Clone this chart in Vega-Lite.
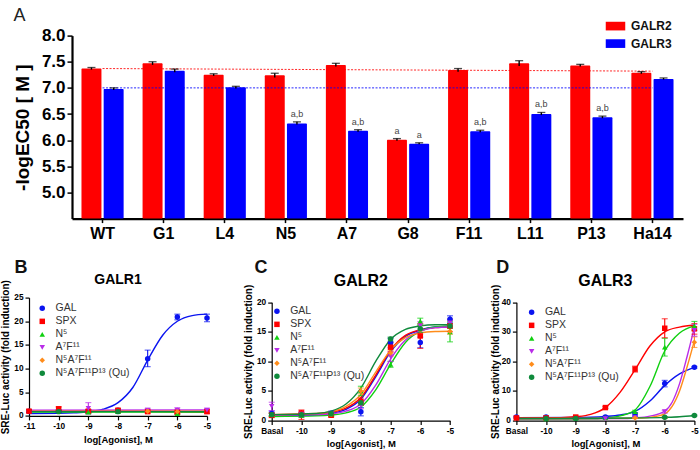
{
  "$schema": "https://vega.github.io/schema/vega-lite/v6.json",
  "padding": {"left": 0, "top": 6.6, "right": 0, "bottom": 0},
  "bounds": "flush",
  "spacing": 79,
  "background": "white",
  "config": {
    "font": "Liberation Sans",
    "view": {"stroke": null},
    "axis": {"grid": false, "domainColor": "black", "tickColor": "black", "labelColor": "black", "titleColor": "black", "labelFontWeight": "bold", "titleFontWeight": "bold", "labelFontSize": 8.3, "titleFontSize": 9.5, "domainWidth": 1.2, "tickWidth": 1.2, "tickSize": 4, "labelPadding": 2, "tickCount": 12, "labelFlush": false},
    "legend": {"title": null, "orient": "none", "labelFontSize": 10.5, "labelColor": "#333333", "symbolSize": 30, "symbolStrokeWidth": 0, "labelOffset": 8, "rowPadding": 2, "labelLimit": 200}
  },
  "datasets": {
    "bars": [
      {"peptide": "WT", "receptor": "GALR2", "value": 7.37, "lo": 7.35, "hi": 7.39, "note": ""},
      {"peptide": "WT", "receptor": "GALR3", "value": 6.98, "lo": 6.96, "hi": 7.0, "note": ""},
      {"peptide": "G1", "receptor": "GALR2", "value": 7.47, "lo": 7.44, "hi": 7.5, "note": ""},
      {"peptide": "G1", "receptor": "GALR3", "value": 7.33, "lo": 7.3, "hi": 7.36, "note": ""},
      {"peptide": "L4", "receptor": "GALR2", "value": 7.25, "lo": 7.23, "hi": 7.27, "note": ""},
      {"peptide": "L4", "receptor": "GALR3", "value": 7.01, "lo": 6.99, "hi": 7.03, "note": ""},
      {"peptide": "N5", "receptor": "GALR2", "value": 7.24, "lo": 7.2, "hi": 7.28, "note": ""},
      {"peptide": "N5", "receptor": "GALR3", "value": 6.32, "lo": 6.3, "hi": 6.35, "note": "a,b"},
      {"peptide": "A7", "receptor": "GALR2", "value": 7.44, "lo": 7.41, "hi": 7.47, "note": ""},
      {"peptide": "A7", "receptor": "GALR3", "value": 6.18, "lo": 6.16, "hi": 6.2, "note": "a,b"},
      {"peptide": "G8", "receptor": "GALR2", "value": 6.01, "lo": 5.99, "hi": 6.03, "note": "a"},
      {"peptide": "G8", "receptor": "GALR3", "value": 5.93, "lo": 5.92, "hi": 5.95, "note": "a"},
      {"peptide": "F11", "receptor": "GALR2", "value": 7.34, "lo": 7.31, "hi": 7.37, "note": ""},
      {"peptide": "F11", "receptor": "GALR3", "value": 6.17, "lo": 6.15, "hi": 6.19, "note": "a,b"},
      {"peptide": "L11", "receptor": "GALR2", "value": 7.47, "lo": 7.42, "hi": 7.52, "note": ""},
      {"peptide": "L11", "receptor": "GALR3", "value": 6.5, "lo": 6.48, "hi": 6.53, "note": "a,b"},
      {"peptide": "P13", "receptor": "GALR2", "value": 7.43, "lo": 7.41, "hi": 7.45, "note": ""},
      {"peptide": "P13", "receptor": "GALR3", "value": 6.44, "lo": 6.42, "hi": 6.46, "note": "a,b"},
      {"peptide": "Ha14", "receptor": "GALR2", "value": 7.29, "lo": 7.27, "hi": 7.31, "note": ""},
      {"peptide": "Ha14", "receptor": "GALR3", "value": 7.17, "lo": 7.16, "hi": 7.19, "note": ""}
    ],
    "refs": [
      {"peptide": "WT", "receptor": "GALR2", "value": 7.37},
      {"peptide": "Ha14", "receptor": "GALR2", "value": 7.32},
      {"peptide": "WT", "receptor": "GALR3", "value": 7.0},
      {"peptide": "Ha14", "receptor": "GALR3", "value": 7.0}
    ],
    "b_curve": [
      {"s": "GAL", "x": -11, "y": 0.5}, {"s": "GAL", "x": -10, "y": 0.55}, {"s": "GAL", "x": -9.5, "y": 0.65}, {"s": "GAL", "x": -9, "y": 0.85}, {"s": "GAL", "x": -8.5, "y": 1.4}, {"s": "GAL", "x": -8, "y": 2.8}, {"s": "GAL", "x": -7.5, "y": 6}, {"s": "GAL", "x": -7, "y": 11.8}, {"s": "GAL", "x": -6.5, "y": 17}, {"s": "GAL", "x": -6, "y": 20}, {"s": "GAL", "x": -5.5, "y": 21.2}, {"s": "GAL", "x": -5, "y": 21.5},
      {"s": "SPX", "x": -11, "y": 1.1}, {"s": "SPX", "x": -8, "y": 1.05}, {"s": "SPX", "x": -5, "y": 0.8},
      {"s": "N⁵", "x": -11, "y": 0.8}, {"s": "N⁵", "x": -5, "y": 0.8},
      {"s": "A⁷F¹¹", "x": -11, "y": 1.2}, {"s": "A⁷F¹¹", "x": -5, "y": 1.25},
      {"s": "N⁵A⁷F¹¹", "x": -11, "y": 1.0}, {"s": "N⁵A⁷F¹¹", "x": -5, "y": 1.0},
      {"s": "N⁵A⁷F¹¹P¹³ (Qu)", "x": -11, "y": 0.9}, {"s": "N⁵A⁷F¹¹P¹³ (Qu)", "x": -5, "y": 0.9}
    ],
    "b_pts": [
      {"s": "GAL", "x": -11, "y": 1, "lo": 0.7, "hi": 1.3}, {"s": "GAL", "x": -10, "y": 1, "lo": 0.7, "hi": 1.3}, {"s": "GAL", "x": -9, "y": 1, "lo": 0.7, "hi": 1.3}, {"s": "GAL", "x": -8, "y": 1.2, "lo": 0.9, "hi": 1.5}, {"s": "GAL", "x": -7, "y": 12.1, "lo": 10.4, "hi": 13.9}, {"s": "GAL", "x": -6, "y": 20.9, "lo": 20.3, "hi": 21.5}, {"s": "GAL", "x": -5, "y": 20.7, "lo": 19.9, "hi": 21.5},
      {"s": "SPX", "x": -11, "y": 1, "lo": 0.7, "hi": 1.3}, {"s": "SPX", "x": -10, "y": 1.5, "lo": 1.1, "hi": 1.9}, {"s": "SPX", "x": -9, "y": 1.0, "lo": 0.7, "hi": 1.3}, {"s": "SPX", "x": -8, "y": 1.2, "lo": 0.9, "hi": 1.5}, {"s": "SPX", "x": -7, "y": 0.9, "lo": 0.6, "hi": 1.2}, {"s": "SPX", "x": -6, "y": 0.8, "lo": 0.5, "hi": 1.1}, {"s": "SPX", "x": -5, "y": 0.9, "lo": 0.5, "hi": 1.3},
      {"s": "N⁵", "x": -9, "y": 0.8, "lo": 0.5, "hi": 1.1}, {"s": "N⁵", "x": -8, "y": 0.9, "lo": 0.6, "hi": 1.2}, {"s": "N⁵", "x": -6, "y": 0.5, "lo": 0.3, "hi": 0.7},
      {"s": "A⁷F¹¹", "x": -9, "y": 1.6, "lo": 0.4, "hi": 2.8}, {"s": "A⁷F¹¹", "x": -7, "y": 1.2, "lo": 0.8, "hi": 1.6}, {"s": "A⁷F¹¹", "x": -6, "y": 1.2, "lo": 0.7, "hi": 1.7}, {"s": "A⁷F¹¹", "x": -5, "y": 1.2, "lo": 0.8, "hi": 1.6},
      {"s": "N⁵A⁷F¹¹", "x": -7, "y": 1.0, "lo": 0.8, "hi": 1.2}, {"s": "N⁵A⁷F¹¹", "x": -6, "y": 0.9, "lo": 0.7, "hi": 1.1},
      {"s": "N⁵A⁷F¹¹P¹³ (Qu)", "x": -10, "y": 0.9, "lo": 0.7, "hi": 1.1}, {"s": "N⁵A⁷F¹¹P¹³ (Qu)", "x": -8, "y": 0.9, "lo": 0.7, "hi": 1.1}
    ],
    "c_curve": [
      {"s": "GAL", "x": -11, "y": 0.8}, {"s": "GAL", "x": -9.5, "y": 0.95}, {"s": "GAL", "x": -9, "y": 1.2}, {"s": "GAL", "x": -8.5, "y": 1.9}, {"s": "GAL", "x": -8, "y": 3.6}, {"s": "GAL", "x": -7.5, "y": 7.4}, {"s": "GAL", "x": -7, "y": 11.6}, {"s": "GAL", "x": -6.5, "y": 14.2}, {"s": "GAL", "x": -6, "y": 15.3}, {"s": "GAL", "x": -5.5, "y": 15.8}, {"s": "GAL", "x": -5, "y": 15.9},
      {"s": "SPX", "x": -11, "y": 1.0}, {"s": "SPX", "x": -9.5, "y": 1.15}, {"s": "SPX", "x": -9, "y": 1.4}, {"s": "SPX", "x": -8.5, "y": 2.1}, {"s": "SPX", "x": -8, "y": 3.9}, {"s": "SPX", "x": -7.5, "y": 7.7}, {"s": "SPX", "x": -7, "y": 11.9}, {"s": "SPX", "x": -6.5, "y": 14.4}, {"s": "SPX", "x": -6, "y": 15.3}, {"s": "SPX", "x": -5.5, "y": 15.7}, {"s": "SPX", "x": -5, "y": 15.8},
      {"s": "N⁵", "x": -11, "y": 0.7}, {"s": "N⁵", "x": -9.5, "y": 0.8}, {"s": "N⁵", "x": -9, "y": 0.95}, {"s": "N⁵", "x": -8.5, "y": 1.3}, {"s": "N⁵", "x": -8, "y": 2.3}, {"s": "N⁵", "x": -7.5, "y": 5.2}, {"s": "N⁵", "x": -7, "y": 9.5}, {"s": "N⁵", "x": -6.5, "y": 13.2}, {"s": "N⁵", "x": -6, "y": 15.1}, {"s": "N⁵", "x": -5.5, "y": 15.8}, {"s": "N⁵", "x": -5, "y": 16.0},
      {"s": "A⁷F¹¹", "x": -11, "y": 0.9}, {"s": "A⁷F¹¹", "x": -9.5, "y": 1.0}, {"s": "A⁷F¹¹", "x": -9, "y": 1.15}, {"s": "A⁷F¹¹", "x": -8.5, "y": 1.6}, {"s": "A⁷F¹¹", "x": -8, "y": 2.8}, {"s": "A⁷F¹¹", "x": -7.5, "y": 6.0}, {"s": "A⁷F¹¹", "x": -7, "y": 10.4}, {"s": "A⁷F¹¹", "x": -6.5, "y": 13.6}, {"s": "A⁷F¹¹", "x": -6, "y": 15.1}, {"s": "A⁷F¹¹", "x": -5.5, "y": 15.7}, {"s": "A⁷F¹¹", "x": -5, "y": 15.8},
      {"s": "N⁵A⁷F¹¹", "x": -11, "y": 1.0}, {"s": "N⁵A⁷F¹¹", "x": -9.5, "y": 1.2}, {"s": "N⁵A⁷F¹¹", "x": -9, "y": 1.5}, {"s": "N⁵A⁷F¹¹", "x": -8.5, "y": 2.4}, {"s": "N⁵A⁷F¹¹", "x": -8, "y": 4.4}, {"s": "N⁵A⁷F¹¹", "x": -7.5, "y": 8.2}, {"s": "N⁵A⁷F¹¹", "x": -7, "y": 11.9}, {"s": "N⁵A⁷F¹¹", "x": -6.5, "y": 14.0}, {"s": "N⁵A⁷F¹¹", "x": -6, "y": 14.8}, {"s": "N⁵A⁷F¹¹", "x": -5.5, "y": 15.05}, {"s": "N⁵A⁷F¹¹", "x": -5, "y": 15.1},
      {"s": "N⁵A⁷F¹¹P¹³ (Qu)", "x": -11, "y": 1.0}, {"s": "N⁵A⁷F¹¹P¹³ (Qu)", "x": -9.5, "y": 1.2}, {"s": "N⁵A⁷F¹¹P¹³ (Qu)", "x": -9, "y": 1.6}, {"s": "N⁵A⁷F¹¹P¹³ (Qu)", "x": -8.5, "y": 2.8}, {"s": "N⁵A⁷F¹¹P¹³ (Qu)", "x": -8, "y": 5.5}, {"s": "N⁵A⁷F¹¹P¹³ (Qu)", "x": -7.5, "y": 10.0}, {"s": "N⁵A⁷F¹¹P¹³ (Qu)", "x": -7, "y": 13.7}, {"s": "N⁵A⁷F¹¹P¹³ (Qu)", "x": -6.5, "y": 15.4}, {"s": "N⁵A⁷F¹¹P¹³ (Qu)", "x": -6, "y": 16.0}, {"s": "N⁵A⁷F¹¹P¹³ (Qu)", "x": -5.5, "y": 16.2}, {"s": "N⁵A⁷F¹¹P¹³ (Qu)", "x": -5, "y": 16.2}
    ],
    "c_pts": [
      {"s": "GAL", "x": -11, "y": 1.2, "lo": 0.8, "hi": 1.6}, {"s": "GAL", "x": -10, "y": 1.0, "lo": 0.6, "hi": 1.4}, {"s": "GAL", "x": -9, "y": 1.2, "lo": 0.8, "hi": 1.6}, {"s": "GAL", "x": -8, "y": 1.5, "lo": 0.8, "hi": 2.2}, {"s": "GAL", "x": -7, "y": 13.1, "lo": 12.3, "hi": 13.9}, {"s": "GAL", "x": -6, "y": 13.2, "lo": 12.3, "hi": 14.1}, {"s": "GAL", "x": -5, "y": 17.1, "lo": 16.5, "hi": 17.7},
      {"s": "SPX", "x": -11, "y": 0.9, "lo": 0.5, "hi": 1.3}, {"s": "SPX", "x": -10, "y": 1.3, "lo": 0.2, "hi": 1.8}, {"s": "SPX", "x": -9, "y": 0.9, "lo": 0.6, "hi": 1.2}, {"s": "SPX", "x": -8, "y": 3.2, "lo": 2.6, "hi": 3.8}, {"s": "SPX", "x": -7, "y": 12.4, "lo": 11.6, "hi": 13.2}, {"s": "SPX", "x": -6, "y": 14.3, "lo": 12.2, "hi": 16.4}, {"s": "SPX", "x": -5, "y": 16.0, "lo": 15.0, "hi": 17.0},
      {"s": "N⁵", "x": -11, "y": 1.0, "lo": 0.7, "hi": 1.3}, {"s": "N⁵", "x": -10, "y": 0.9, "lo": 0.6, "hi": 1.2}, {"s": "N⁵", "x": -9, "y": 1.1, "lo": 0.8, "hi": 1.4}, {"s": "N⁵", "x": -8, "y": 5.0, "lo": 4.2, "hi": 5.8}, {"s": "N⁵", "x": -7, "y": 9.5, "lo": 9.0, "hi": 10.0}, {"s": "N⁵", "x": -6, "y": 16.8, "lo": 16.2, "hi": 17.3}, {"s": "N⁵", "x": -5, "y": 15.0, "lo": 13.3, "hi": 16.7},
      {"s": "A⁷F¹¹", "x": -11, "y": 2.4, "lo": 1.7, "hi": 3.1}, {"s": "A⁷F¹¹", "x": -10, "y": 1.1, "lo": 0.8, "hi": 1.4}, {"s": "A⁷F¹¹", "x": -9, "y": 1.1, "lo": 0.8, "hi": 1.4}, {"s": "A⁷F¹¹", "x": -8, "y": 2.5, "lo": 2.0, "hi": 3.0}, {"s": "A⁷F¹¹", "x": -7, "y": 10.8, "lo": 10.0, "hi": 11.6}, {"s": "A⁷F¹¹", "x": -6, "y": 16.0, "lo": 15.3, "hi": 16.7}, {"s": "A⁷F¹¹", "x": -5, "y": 16.5, "lo": 15.8, "hi": 17.2},
      {"s": "N⁵A⁷F¹¹", "x": -11, "y": 1.0, "lo": 0.7, "hi": 1.3}, {"s": "N⁵A⁷F¹¹", "x": -10, "y": 1.0, "lo": 0.7, "hi": 1.3}, {"s": "N⁵A⁷F¹¹", "x": -9, "y": 1.1, "lo": 0.8, "hi": 1.4}, {"s": "N⁵A⁷F¹¹", "x": -8, "y": 5.0, "lo": 4.5, "hi": 5.5}, {"s": "N⁵A⁷F¹¹", "x": -7, "y": 11.4, "lo": 10.9, "hi": 11.9}, {"s": "N⁵A⁷F¹¹", "x": -6, "y": 15.3, "lo": 14.5, "hi": 16.1}, {"s": "N⁵A⁷F¹¹", "x": -5, "y": 15.1, "lo": 14.6, "hi": 15.6},
      {"s": "N⁵A⁷F¹¹P¹³ (Qu)", "x": -11, "y": 1.0, "lo": 0.8, "hi": 1.2}, {"s": "N⁵A⁷F¹¹P¹³ (Qu)", "x": -10, "y": 1.0, "lo": 0.8, "hi": 1.2}, {"s": "N⁵A⁷F¹¹P¹³ (Qu)", "x": -9, "y": 1.2, "lo": 1.0, "hi": 1.4}, {"s": "N⁵A⁷F¹¹P¹³ (Qu)", "x": -8, "y": 3.0, "lo": 2.6, "hi": 3.4}, {"s": "N⁵A⁷F¹¹P¹³ (Qu)", "x": -7, "y": 13.8, "lo": 13.4, "hi": 14.1}, {"s": "N⁵A⁷F¹¹P¹³ (Qu)", "x": -6, "y": 15.5, "lo": 14.9, "hi": 16.1}, {"s": "N⁵A⁷F¹¹P¹³ (Qu)", "x": -5, "y": 16.0, "lo": 15.6, "hi": 16.4}
    ],
    "d_curve": [
      {"s": "GAL", "x": -11, "y": 1.0}, {"s": "GAL", "x": -9, "y": 1.05}, {"s": "GAL", "x": -8.5, "y": 1.15}, {"s": "GAL", "x": -8, "y": 1.4}, {"s": "GAL", "x": -7.5, "y": 1.9}, {"s": "GAL", "x": -7, "y": 3.1}, {"s": "GAL", "x": -6.5, "y": 6.6}, {"s": "GAL", "x": -6, "y": 11.9}, {"s": "GAL", "x": -5.5, "y": 15.8}, {"s": "GAL", "x": -5, "y": 18},
      {"s": "SPX", "x": -11, "y": 0.9}, {"s": "SPX", "x": -9.5, "y": 1.0}, {"s": "SPX", "x": -9, "y": 1.3}, {"s": "SPX", "x": -8.5, "y": 2.1}, {"s": "SPX", "x": -8, "y": 4.4}, {"s": "SPX", "x": -7.5, "y": 9.6}, {"s": "SPX", "x": -7, "y": 17.2}, {"s": "SPX", "x": -6.5, "y": 25.2}, {"s": "SPX", "x": -6, "y": 30}, {"s": "SPX", "x": -5.5, "y": 31.6}, {"s": "SPX", "x": -5, "y": 32.2},
      {"s": "N⁵", "x": -11, "y": 0.5}, {"s": "N⁵", "x": -8.5, "y": 0.6}, {"s": "N⁵", "x": -8, "y": 0.9}, {"s": "N⁵", "x": -7.5, "y": 1.6}, {"s": "N⁵", "x": -7, "y": 3.6}, {"s": "N⁵", "x": -6.5, "y": 11.5}, {"s": "N⁵", "x": -6, "y": 23.5}, {"s": "N⁵", "x": -5.5, "y": 29.6}, {"s": "N⁵", "x": -5, "y": 32},
      {"s": "A⁷F¹¹", "x": -11, "y": 0.6}, {"s": "A⁷F¹¹", "x": -7.5, "y": 0.7}, {"s": "A⁷F¹¹", "x": -7, "y": 0.9}, {"s": "A⁷F¹¹", "x": -6.5, "y": 1.5}, {"s": "A⁷F¹¹", "x": -6, "y": 3.2}, {"s": "A⁷F¹¹", "x": -5.75, "y": 6.2}, {"s": "A⁷F¹¹", "x": -5.5, "y": 12.5}, {"s": "A⁷F¹¹", "x": -5.25, "y": 21.5}, {"s": "A⁷F¹¹", "x": -5, "y": 31.5},
      {"s": "N⁵A⁷F¹¹", "x": -11, "y": 0.7}, {"s": "N⁵A⁷F¹¹", "x": -7, "y": 0.8}, {"s": "N⁵A⁷F¹¹", "x": -6.5, "y": 1.1}, {"s": "N⁵A⁷F¹¹", "x": -6, "y": 2.3}, {"s": "N⁵A⁷F¹¹", "x": -5.75, "y": 4.8}, {"s": "N⁵A⁷F¹¹", "x": -5.5, "y": 10}, {"s": "N⁵A⁷F¹¹", "x": -5.25, "y": 18}, {"s": "N⁵A⁷F¹¹", "x": -5, "y": 27},
      {"s": "N⁵A⁷F¹¹P¹³ (Qu)", "x": -11, "y": 0.7}, {"s": "N⁵A⁷F¹¹P¹³ (Qu)", "x": -8, "y": 0.8}, {"s": "N⁵A⁷F¹¹P¹³ (Qu)", "x": -7, "y": 0.9}, {"s": "N⁵A⁷F¹¹P¹³ (Qu)", "x": -6, "y": 1.1}, {"s": "N⁵A⁷F¹¹P¹³ (Qu)", "x": -5.5, "y": 1.3}, {"s": "N⁵A⁷F¹¹P¹³ (Qu)", "x": -5, "y": 1.7}
    ],
    "d_pts": [
      {"s": "GAL", "x": -11, "y": 1.2, "lo": 0.9, "hi": 1.5}, {"s": "GAL", "x": -10, "y": 1.2, "lo": 0.9, "hi": 1.5}, {"s": "GAL", "x": -9, "y": 1.0, "lo": 0.7, "hi": 1.3}, {"s": "GAL", "x": -8, "y": 1.2, "lo": 0.9, "hi": 1.5}, {"s": "GAL", "x": -7, "y": 2.1, "lo": 1.5, "hi": 2.7}, {"s": "GAL", "x": -6, "y": 12.5, "lo": 11.4, "hi": 13.6}, {"s": "GAL", "x": -5, "y": 18, "lo": 17.7, "hi": 18.3},
      {"s": "SPX", "x": -11, "y": 0.9, "lo": 0.6, "hi": 1.2}, {"s": "SPX", "x": -10, "y": 0.9, "lo": 0.6, "hi": 1.2}, {"s": "SPX", "x": -9, "y": 1.2, "lo": 0.9, "hi": 1.5}, {"s": "SPX", "x": -8, "y": 4.4, "lo": 4.1, "hi": 4.7}, {"s": "SPX", "x": -7, "y": 17.4, "lo": 16.4, "hi": 18.4}, {"s": "SPX", "x": -6, "y": 31.2, "lo": 28, "hi": 34.4}, {"s": "SPX", "x": -5, "y": 31, "lo": 29.2, "hi": 32.8},
      {"s": "N⁵", "x": -10, "y": 0.6, "lo": 0.4, "hi": 0.8}, {"s": "N⁵", "x": -9, "y": 0.8, "lo": 0.6, "hi": 1.0}, {"s": "N⁵", "x": -8, "y": 1.0, "lo": 0.8, "hi": 1.2}, {"s": "N⁵", "x": -7, "y": 3.0, "lo": 2.5, "hi": 3.5}, {"s": "N⁵", "x": -6, "y": 24.8, "lo": 21.8, "hi": 27.8}, {"s": "N⁵", "x": -5, "y": 32, "lo": 30.5, "hi": 33.5},
      {"s": "A⁷F¹¹", "x": -8, "y": 0.7, "lo": 0.5, "hi": 0.9}, {"s": "A⁷F¹¹", "x": -7, "y": 1.0, "lo": 0.8, "hi": 1.2}, {"s": "A⁷F¹¹", "x": -6, "y": 3.0, "lo": 2.5, "hi": 3.5}, {"s": "A⁷F¹¹", "x": -5, "y": 30.5, "lo": 28.5, "hi": 32.5},
      {"s": "N⁵A⁷F¹¹", "x": -7, "y": 0.9, "lo": 0.7, "hi": 1.1}, {"s": "N⁵A⁷F¹¹", "x": -6, "y": 1.0, "lo": 0.8, "hi": 1.2}, {"s": "N⁵A⁷F¹¹", "x": -5, "y": 26.5, "lo": 24.7, "hi": 28.3},
      {"s": "N⁵A⁷F¹¹P¹³ (Qu)", "x": -10, "y": 0.7, "lo": 0.5, "hi": 0.9}, {"s": "N⁵A⁷F¹¹P¹³ (Qu)", "x": -9, "y": 0.7, "lo": 0.5, "hi": 0.9}, {"s": "N⁵A⁷F¹¹P¹³ (Qu)", "x": -6, "y": 1.1, "lo": 0.9, "hi": 1.3}, {"s": "N⁵A⁷F¹¹P¹³ (Qu)", "x": -5, "y": 1.7, "lo": 1.5, "hi": 1.9}
    ]
  },
  "resolve": {"scale": {"color": "independent", "shape": "independent", "fill": "independent"}, "legend": {"color": "independent", "shape": "independent", "fill": "independent"}},
  "vconcat": [
    {
      "width": 654,
      "height": 183,
      "data": {"name": "bars"},
      "encoding": {
        "x": {"field": "peptide", "type": "nominal", "sort": null, "scale": {"domain": ["WT", "G1", "L4", "N5", "A7", "G8", "F11", "L11", "P13", "Ha14"], "range": [43, 654], "paddingInner": 0.31, "paddingOuter": 0.155}, "axis": {"title": null, "labelAngle": 0, "labelFontSize": 16, "labelPadding": 3, "domainWidth": 2.2, "tickWidth": 1.5, "tickSize": 4}}
      },
      "layer": [
        {
          "mark": {"type": "bar", "cornerRadius": 1},
          "encoding": {
            "xOffset": {"field": "receptor", "scale": {"paddingInner": 0.1}},
            "y": {"field": "value", "type": "quantitative", "stack": null, "scale": {"domain": [4.5, 8], "nice": false}, "axis": {"title": "-logEC50 [ M ]", "values": [5, 5.5, 6, 6.5, 7, 7.5, 8], "labelExpr": "format(datum.value, '.1f')", "labelFontSize": 17, "titleFontSize": 19, "offset": -43, "domainWidth": 2.2, "tickWidth": 1.5, "tickSize": 5, "labelPadding": 2, "titlePadding": 9}},
            "y2": {"datum": 4.5},
            "color": {"field": "receptor", "type": "nominal", "scale": {"domain": ["GALR2", "GALR3"], "range": ["#ff0000", "#0000ff"]}, "legend": {"legendX": 580, "legendY": -16, "symbolType": "M-1.5,-0.667H1.5V0.667H-1.5Z", "symbolSize": 169, "labelFontSize": 12, "labelFontWeight": "bold", "labelColor": "#111111", "labelOffset": 9, "rowPadding": 4.5}}
          }
        },
        {
          "data": {"name": "refs"},
          "mark": {"type": "line", "strokeDash": [2, 1.5], "strokeWidth": 1, "opacity": 0.85},
          "encoding": {
            "y": {"field": "value", "type": "quantitative"},
            "color": {"field": "receptor", "type": "nominal", "legend": null},
            "detail": {"field": "receptor"}
          }
        },
        {
          "mark": {"type": "rule", "color": "black", "strokeWidth": 1.4},
          "encoding": {
            "xOffset": {"field": "receptor", "scale": {"paddingInner": 0.1}},
            "y": {"field": "lo", "type": "quantitative"},
            "y2": {"field": "hi"}
          }
        },
        {
          "mark": {"type": "tick", "color": "black", "thickness": 1.3, "size": 8},
          "encoding": {
            "xOffset": {"field": "receptor", "scale": {"paddingInner": 0.1}},
            "y": {"field": "hi", "type": "quantitative"}
          }
        },
        {
          "mark": {"type": "text", "fontSize": 9, "color": "#444444", "dy": -8},
          "encoding": {
            "xOffset": {"field": "receptor", "scale": {"paddingInner": 0.1}},
            "y": {"field": "hi", "type": "quantitative"},
            "text": {"field": "note"}
          }
        },
        {
          "data": {"values": [{"label": "A"}]},
          "mark": {"type": "text", "fontSize": 18, "color": "#222222", "dx": -83},
          "encoding": {
            "x": {"datum": "WT", "type": "nominal"},
            "y": {"datum": 8.37, "type": "quantitative"},
            "text": {"field": "label"}
          }
        }
      ]
    },
    {
      "bounds": "flush",
      "spacing": 64.7,
      "resolve": {"scale": {"color": "independent", "shape": "independent", "fill": "independent"}, "legend": {"color": "independent", "shape": "independent", "fill": "independent"}},
      "hconcat": [
        {
          "width": 178,
          "height": 123,
          "layer": [
            {
              "data": {"name": "b_curve"},
              "mark": {"type": "line", "strokeWidth": 1.4, "interpolate": "monotone"},
              "encoding": {
                "x": {"field": "x", "type": "quantitative", "scale": {"domain": [-11, -5], "nice": false}, "axis": {"title": "log[Agonist], M", "values": [-11, -10, -9, -8, -7, -6, -5], "labelExpr": "'' + datum.value", "offset": -4.7}},
                "y": {"field": "y", "type": "quantitative", "scale": {"domain": [0, 25], "range": [118.3, 0], "nice": false}, "axis": {"title": "SRE-Luc activity (fold induction)", "titleFontSize": 10, "values": [0, 5, 10, 15, 20, 25], "titlePadding": 3}},
                "color": {"field": "s", "type": "nominal", "scale": {"domain": ["N⁵A⁷F¹¹P¹³ (Qu)", "N⁵A⁷F¹¹", "A⁷F¹¹", "N⁵", "SPX", "GAL"], "range": ["#0f8a3c", "#ff8c1a", "#b92ce8", "#10d010", "#ff0000", "#0a14f0"]}, "legend": null}
              }
            },
            {
              "data": {"name": "b_pts"},
              "mark": {"type": "rule", "strokeWidth": 1.1},
              "encoding": {
                "x": {"field": "x", "type": "quantitative"},
                "y": {"field": "lo", "type": "quantitative"},
                "y2": {"field": "hi"},
                "color": {"field": "s", "type": "nominal", "legend": null}
              }
            },
            {
              "data": {"name": "b_pts"},
              "mark": {"type": "tick", "orient": "horizontal", "thickness": 1.1, "size": 6},
              "encoding": {
                "x": {"field": "x", "type": "quantitative"},
                "y": {"field": "hi", "type": "quantitative"},
                "color": {"field": "s", "type": "nominal", "legend": null}
              }
            },
            {
              "data": {"name": "b_pts"},
              "mark": {"type": "tick", "orient": "horizontal", "thickness": 1.1, "size": 6},
              "encoding": {
                "x": {"field": "x", "type": "quantitative"},
                "y": {"field": "lo", "type": "quantitative"},
                "color": {"field": "s", "type": "nominal", "legend": null}
              }
            },
            {
              "data": {"name": "b_pts"},
              "mark": {"type": "point", "filled": true, "opacity": 1, "size": 30},
              "encoding": {
                "x": {"field": "x", "type": "quantitative"},
                "y": {"field": "y", "type": "quantitative"},
                "fill": {"field": "s", "type": "nominal", "scale": {"domain": ["GAL", "SPX", "N⁵", "A⁷F¹¹", "N⁵A⁷F¹¹", "N⁵A⁷F¹¹P¹³ (Qu)"], "range": ["#0a14f0", "#ff0000", "#10d010", "#b92ce8", "#ff8c1a", "#0f8a3c"]}, "legend": {"legendX": 8, "legendY": 5.5}},
                "shape": {"field": "s", "type": "nominal", "scale": {"domain": ["GAL", "SPX", "N⁵", "A⁷F¹¹", "N⁵A⁷F¹¹", "N⁵A⁷F¹¹P¹³ (Qu)"], "range": ["circle", "square", "triangle-up", "triangle-down", "diamond", "circle"]}, "legend": {"legendX": 8, "legendY": 5.5}}
              }
            },
            {
              "data": {"values": [{"label": "B"}]},
              "mark": {"type": "text", "fontSize": 18, "fontWeight": "bold", "color": "#111111"},
              "encoding": {"x": {"datum": -11.27, "type": "quantitative"}, "y": {"datum": 31.3, "type": "quantitative"}, "text": {"field": "label", "type": "nominal"}}
            },
            {
              "data": {"values": [{"label": "GALR1"}]},
              "mark": {"type": "text", "fontSize": 14, "fontWeight": "bold", "color": "black"},
              "encoding": {"x": {"datum": -8, "type": "quantitative"}, "y": {"datum": 28.8, "type": "quantitative"}, "text": {"field": "label", "type": "nominal"}}
            }
          ]
        },
        {
          "width": 180,
          "height": 123,
          "layer": [
            {
              "data": {"name": "c_curve"},
              "mark": {"type": "line", "strokeWidth": 1.4, "interpolate": "monotone"},
              "encoding": {
                "x": {"field": "x", "type": "quantitative", "scale": {"domain": [-11, -5], "range": [0, 178.3], "nice": false}, "axis": {"title": "log[Agonist], M", "values": [-11, -10, -9, -8, -7, -6, -5], "labelExpr": "datum.value == -11 ? 'Basal' : '' + datum.value"}},
                "y": {"field": "y", "type": "quantitative", "scale": {"domain": [0, 20], "range": [123, 4.6], "nice": false}, "axis": {"title": "SRE-Luc activity (fold induction)", "titleFontSize": 10, "values": [0, 5, 10, 15, 20], "titlePadding": 3}},
                "color": {"field": "s", "type": "nominal", "scale": {"domain": ["N⁵A⁷F¹¹P¹³ (Qu)", "N⁵A⁷F¹¹", "A⁷F¹¹", "N⁵", "SPX", "GAL"], "range": ["#0f8a3c", "#ff8c1a", "#b92ce8", "#10d010", "#ff0000", "#0a14f0"]}, "legend": null}
              }
            },
            {
              "data": {"name": "c_pts"},
              "mark": {"type": "rule", "strokeWidth": 1.1},
              "encoding": {
                "x": {"field": "x", "type": "quantitative"},
                "y": {"field": "lo", "type": "quantitative"},
                "y2": {"field": "hi"},
                "color": {"field": "s", "type": "nominal", "legend": null}
              }
            },
            {
              "data": {"name": "c_pts"},
              "mark": {"type": "tick", "orient": "horizontal", "thickness": 1.1, "size": 6},
              "encoding": {
                "x": {"field": "x", "type": "quantitative"},
                "y": {"field": "hi", "type": "quantitative"},
                "color": {"field": "s", "type": "nominal", "legend": null}
              }
            },
            {
              "data": {"name": "c_pts"},
              "mark": {"type": "tick", "orient": "horizontal", "thickness": 1.1, "size": 6},
              "encoding": {
                "x": {"field": "x", "type": "quantitative"},
                "y": {"field": "lo", "type": "quantitative"},
                "color": {"field": "s", "type": "nominal", "legend": null}
              }
            },
            {
              "data": {"name": "c_pts"},
              "mark": {"type": "point", "filled": true, "opacity": 1, "size": 30},
              "encoding": {
                "x": {"field": "x", "type": "quantitative"},
                "y": {"field": "y", "type": "quantitative"},
                "fill": {"field": "s", "type": "nominal", "scale": {"domain": ["GAL", "SPX", "N⁵", "A⁷F¹¹", "N⁵A⁷F¹¹", "N⁵A⁷F¹¹P¹³ (Qu)"], "range": ["#0a14f0", "#ff0000", "#10d010", "#b92ce8", "#ff8c1a", "#0f8a3c"]}, "legend": {"legendX": 0, "legendY": 8.5}},
                "shape": {"field": "s", "type": "nominal", "scale": {"domain": ["GAL", "SPX", "N⁵", "A⁷F¹¹", "N⁵A⁷F¹¹", "N⁵A⁷F¹¹P¹³ (Qu)"], "range": ["circle", "square", "triangle-up", "triangle-down", "diamond", "circle"]}, "legend": {"legendX": 0, "legendY": 8.5}}
              }
            },
            {
              "data": {"values": [{"label": "C"}]},
              "mark": {"type": "text", "fontSize": 18, "fontWeight": "bold", "color": "#111111"},
              "encoding": {"x": {"datum": -11.36, "type": "quantitative"}, "y": {"datum": 25.8, "type": "quantitative"}, "text": {"field": "label", "type": "nominal"}}
            },
            {
              "data": {"values": [{"label": "GALR2"}]},
              "mark": {"type": "text", "fontSize": 16, "fontWeight": "bold", "color": "black"},
              "encoding": {"x": {"datum": -8, "type": "quantitative"}, "y": {"datum": 23.6, "type": "quantitative"}, "text": {"field": "label", "type": "nominal"}}
            }
          ]
        },
        {
          "width": 178,
          "height": 123,
          "layer": [
            {
              "data": {"name": "d_curve"},
              "mark": {"type": "line", "strokeWidth": 1.4, "interpolate": "monotone"},
              "encoding": {
                "x": {"field": "x", "type": "quantitative", "scale": {"domain": [-11, -5], "nice": false}, "axis": {"title": "log[Agonist], M", "values": [-11, -10, -9, -8, -7, -6, -5], "labelExpr": "datum.value == -11 ? 'Basal' : '' + datum.value"}},
                "y": {"field": "y", "type": "quantitative", "scale": {"domain": [0, 40], "range": [123, 4.6], "nice": false}, "axis": {"title": "SRE-Luc activity (fold induction)", "titleFontSize": 10, "values": [0, 10, 20, 30, 40], "titlePadding": 1}},
                "color": {"field": "s", "type": "nominal", "scale": {"domain": ["N⁵A⁷F¹¹P¹³ (Qu)", "N⁵A⁷F¹¹", "A⁷F¹¹", "N⁵", "SPX", "GAL"], "range": ["#0f8a3c", "#ff8c1a", "#b92ce8", "#10d010", "#ff0000", "#0a14f0"]}, "legend": null}
              }
            },
            {
              "data": {"name": "d_pts"},
              "mark": {"type": "rule", "strokeWidth": 1.1},
              "encoding": {
                "x": {"field": "x", "type": "quantitative"},
                "y": {"field": "lo", "type": "quantitative"},
                "y2": {"field": "hi"},
                "color": {"field": "s", "type": "nominal", "legend": null}
              }
            },
            {
              "data": {"name": "d_pts"},
              "mark": {"type": "tick", "orient": "horizontal", "thickness": 1.1, "size": 6},
              "encoding": {
                "x": {"field": "x", "type": "quantitative"},
                "y": {"field": "hi", "type": "quantitative"},
                "color": {"field": "s", "type": "nominal", "legend": null}
              }
            },
            {
              "data": {"name": "d_pts"},
              "mark": {"type": "tick", "orient": "horizontal", "thickness": 1.1, "size": 6},
              "encoding": {
                "x": {"field": "x", "type": "quantitative"},
                "y": {"field": "lo", "type": "quantitative"},
                "color": {"field": "s", "type": "nominal", "legend": null}
              }
            },
            {
              "data": {"name": "d_pts"},
              "mark": {"type": "point", "filled": true, "opacity": 1, "size": 30},
              "encoding": {
                "x": {"field": "x", "type": "quantitative"},
                "y": {"field": "y", "type": "quantitative"},
                "fill": {"field": "s", "type": "nominal", "scale": {"domain": ["GAL", "SPX", "N⁵", "A⁷F¹¹", "N⁵A⁷F¹¹", "N⁵A⁷F¹¹P¹³ (Qu)"], "range": ["#0a14f0", "#ff0000", "#10d010", "#b92ce8", "#ff8c1a", "#0f8a3c"]}, "legend": {"legendX": 10, "legendY": 9.5}},
                "shape": {"field": "s", "type": "nominal", "scale": {"domain": ["GAL", "SPX", "N⁵", "A⁷F¹¹", "N⁵A⁷F¹¹", "N⁵A⁷F¹¹P¹³ (Qu)"], "range": ["circle", "square", "triangle-up", "triangle-down", "diamond", "circle"]}, "legend": {"legendX": 10, "legendY": 9.5}}
              }
            },
            {
              "data": {"values": [{"label": "D"}]},
              "mark": {"type": "text", "fontSize": 18, "fontWeight": "bold", "color": "#111111"},
              "encoding": {"x": {"datum": -11.46, "type": "quantitative"}, "y": {"datum": 51.5, "type": "quantitative"}, "text": {"field": "label", "type": "nominal"}}
            },
            {
              "data": {"values": [{"label": "GALR3"}]},
              "mark": {"type": "text", "fontSize": 16, "fontWeight": "bold", "color": "black"},
              "encoding": {"x": {"datum": -8, "type": "quantitative"}, "y": {"datum": 47.2, "type": "quantitative"}, "text": {"field": "label", "type": "nominal"}}
            }
          ]
        }
      ]
    }
  ]
}
